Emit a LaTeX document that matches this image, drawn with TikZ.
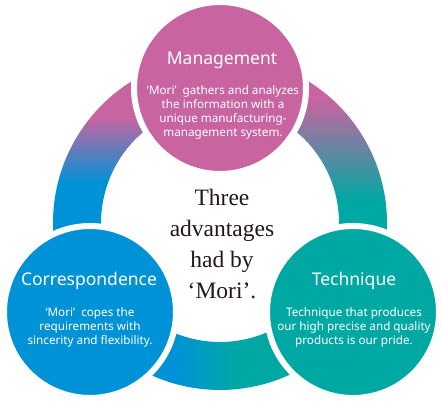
\documentclass[tikz,border=0pt]{standalone}
\usepackage{fontspec}
\setmainfont{Liberation Serif}
\newfontfamily\roundFont{Noto Sans}
\usepackage{tikz}
\usetikzlibrary{calc}
\definecolor{mgmtPink}{HTML}{C864A0}
\definecolor{corrBlue}{HTML}{0092D7}
\definecolor{techTeal}{HTML}{00A8A4}
\definecolor{inkDark}{HTML}{231815}
\pgfdeclareverticalshading{pinkBlue}{100bp}{color(0bp)=(corrBlue); color(50.7bp)=(corrBlue); color(63.3bp)=(mgmtPink); color(100bp)=(mgmtPink)}
\pgfdeclareverticalshading{pinkTeal}{100bp}{color(0bp)=(techTeal); color(47.3bp)=(techTeal); color(66.5bp)=(mgmtPink); color(100bp)=(mgmtPink)}
\pgfdeclarehorizontalshading{blueTeal}{100bp}{color(0bp)=(corrBlue); color(41.4bp)=(corrBlue); color(53bp)=(techTeal); color(100bp)=(techTeal)}

\begin{document}
\begin{tikzpicture}[x=1pt,y=1pt,
  bubble/.style={circle,draw=white,line width=6pt,minimum size=172pt,inner sep=0pt},
  bubbleTitle/.style={text=white,font=\roundFont\fontsize{17.5}{20}\selectfont},
  bubbleText/.style={text=white,align=center,font=\roundFont\fontsize{11.7}{14}\selectfont}]
\useasboundingbox[fill=white] (0,0) rectangle (442,401);
\coordinate (ringc) at (220,178);
\shade[shading=pinkBlue] ([shift={(90:167)}]ringc) arc[start angle=90,end angle=214.4,radius=167]
  -- ([shift={(214.4:119)}]ringc) arc[start angle=214.4,end angle=90,radius=119] -- cycle;
\shade[shading=pinkTeal] ([shift={(-33.8:167)}]ringc) arc[start angle=-33.8,end angle=90,radius=167]
  -- ([shift={(90:119)}]ringc) arc[start angle=90,end angle=-33.8,radius=119] -- cycle;
\shade[shading=blueTeal] ([shift={(214.4:167)}]ringc) arc[start angle=214.4,end angle=326.2,radius=167]
  -- ([shift={(326.2:119)}]ringc) arc[start angle=326.2,end angle=214.4,radius=119] -- cycle;

\node[bubble,fill=mgmtPink] (mgmt) at (220,313) {};
\node[bubble,fill=corrBlue] (corr) at (90,89) {};
\node[bubble,fill=techTeal] (tech) at (353,89) {};

\node[bubbleTitle] (mgmtTitle) at (222,341) {Management};
\node[bubbleText] (mgmtText) at (223,289) {‘Mori’\ \ gathers and analyzes\\the information with a\\unique manufacturing-\\management system.};
\node[bubbleTitle] (corrTitle) at (89,120) {Correspondence};
\node[bubbleText] (corrText) at (90,74) {‘Mori’\ \ copes the\\requirements with\\sincerity and flexibility.};
\node[bubbleTitle] (techTitle) at (354,120) {Technique};
\node[bubbleText] (techText) at (354,74) {Technique that produces\\our high precise and quality\\products is our pride.};

\node[align=center,text=inkDark,font=\fontsize{23.5}{31}\selectfont] (motto) at (222,157) {Three\\advantages\\had by\\‘Mori’.};
\end{tikzpicture}
\end{document}
